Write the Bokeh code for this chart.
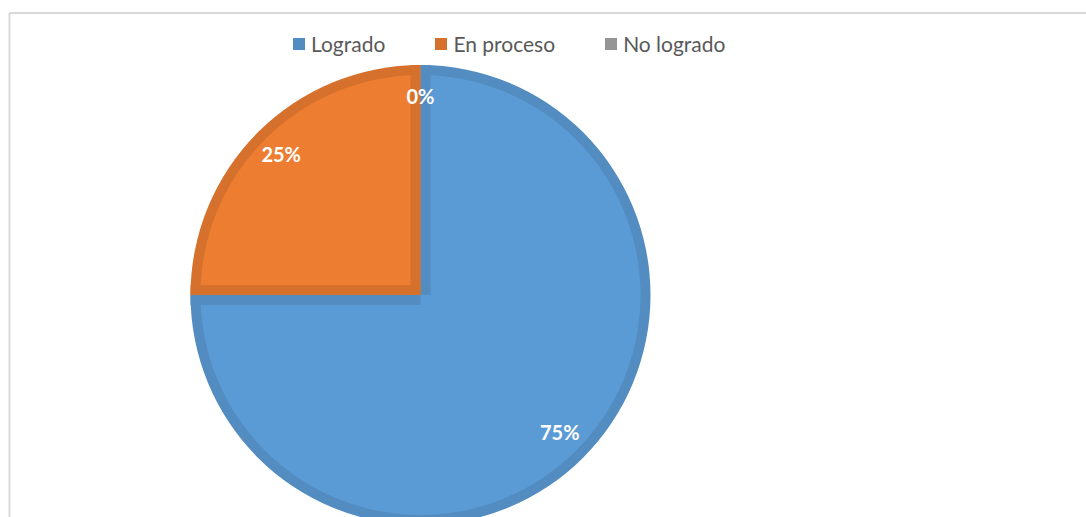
import numpy as np
from bokeh.plotting import figure
from bokeh.models import Range1d, Legend, LegendItem, ColumnDataSource
from bokeh.core.properties import value
from bokeh.embed import file_html
from bokeh.resources import INLINE

# ---- data ----
categories = ["Logrado", "En proceso", "No logrado"]
percentages = [75, 25, 0]
fill_colors = ["#5B9BD5", "#ED7D31", "#A5A5A5"]
edge_colors = ["#528CC0", "#D5712C", "#959595"]

# ---- layout constants (pixels) ----
CX, CY, R, BAND = 420, -294.5, 230, 10
LABEL_R = 197

fracs = np.array(percentages, dtype=float) / sum(percentages)
cum_before = np.concatenate([[0], np.cumsum(fracs)[:-1]])
a0 = np.pi / 2 - 2 * np.pi * cum_before          # clockwise start
a1 = a0 - 2 * np.pi * fracs                        # clockwise end
radius = np.where(fracs > 0, R, 0.0)
inner_radius = np.where(fracs > 0, R - BAND, 0.0)

src = ColumnDataSource(dict(
    cat=categories, start=a1, end=a0, r=radius, ri=inner_radius,
    fill=fill_colors, edge=edge_colors,
))

p = figure(width=1086, height=517, x_range=Range1d(0, 1086), y_range=Range1d(-517, 0),
           output_backend="svg", toolbar_location=None, min_border=0,
           x_axis_type=None, y_axis_type=None, outline_line_color=None)
p.grid.visible = False

# chart-area border (top and left visible)
p.segment(x0=[9, 9], y0=[-12.5, -12.5], x1=[1200, 9], y1=[-12.5, -600],
          line_color="#D9D9D9", line_width=2)

# dark slices (rim)
dark = p.wedge(x=CX, y=CY, radius="r", start_angle="start", end_angle="end",
               direction="anticlock", fill_color="edge", line_color=None, source=src)
# lighter inner slices
p.wedge(x=CX, y=CY, radius="ri", start_angle="start", end_angle="end",
        direction="anticlock", fill_color="fill", line_color=None, source=src)

# dark bands along the straight edges of each slice
bx, by, bang, bcol = [], [], [], []
for i in range(len(categories)):
    if fracs[i] <= 0:
        continue
    for ang, (ox, oy) in ((a0[i], (np.sin(a0[i]), -np.cos(a0[i]))),
                          (a1[i], (-np.sin(a1[i]), np.cos(a1[i])))):
        bx.append(CX + R / 2 * np.cos(ang) + BAND / 2 * ox)
        by.append(CY + R / 2 * np.sin(ang) + BAND / 2 * oy)
        bang.append(ang)
        bcol.append(edge_colors[i])
p.rect(x=bx, y=by, width=R, height=BAND, angle=bang, fill_color=bcol, line_color=None)

# data labels
mid = (a0 + a1) / 2
lx = CX + LABEL_R * np.cos(mid)
ly = CY + LABEL_R * np.sin(mid)
p.text(x=lx, y=ly, text=[f"{v}%" for v in percentages], text_color="white",
       text_font=value("Lato"), text_font_style="bold", text_font_size="20px",
       text_align="center", text_baseline="middle", y_offset=-2)

items = [LegendItem(label=c, renderers=[dark], index=i) for i, c in enumerate(categories)]
legend = Legend(items=items, orientation="horizontal", location=(291, 461),
                padding=0, margin=0, spacing=48, glyph_width=15, glyph_height=15,
                label_standoff=5, label_text_font="Lato", label_text_font_size="21px",
                label_text_color="#595959", background_fill_alpha=0, border_line_alpha=0)
p.add_layout(legend)

open("out.html", "w").write(file_html(p, INLINE))
